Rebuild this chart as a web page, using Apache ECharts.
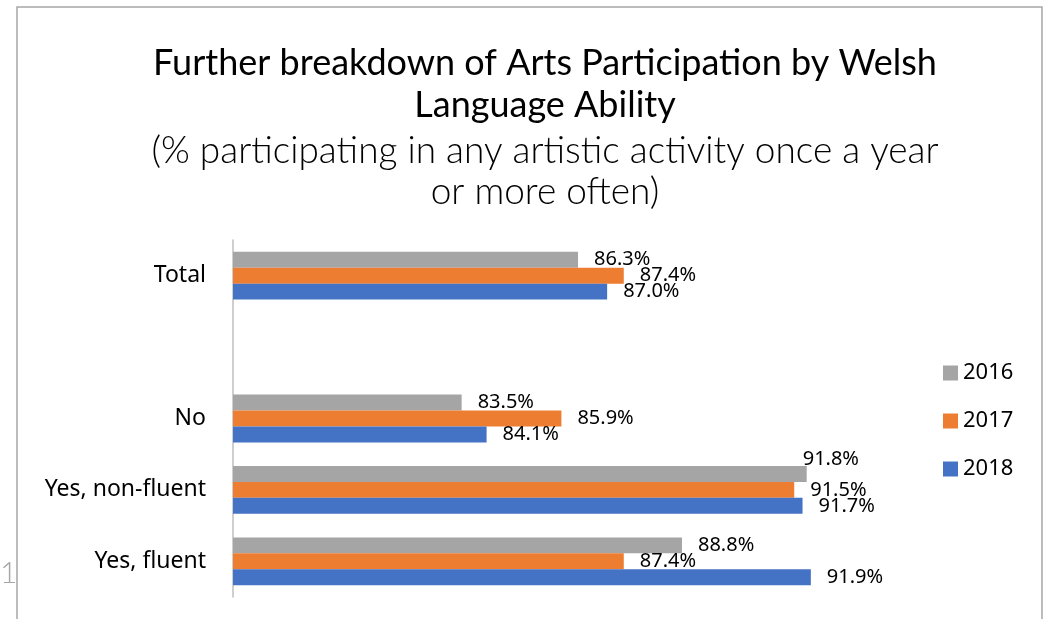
<!DOCTYPE html>
<html>
<head>
<meta charset="utf-8">
<script src="https://cdn.jsdelivr.net/npm/echarts@6/dist/echarts.min.js"></script>
<style>
html,body{margin:0;padding:0;background:#fff;}
#chart{width:1047px;height:619px;}
</style>
</head>
<body>
<div id="chart"></div>
<script>
// Categories, bottom to top as the category axis runs
var categories = ['Yes, fluent', 'Yes, non-fluent', 'No', '', 'Total'];
var seriesNames = ['2016', '2017', '2018'];
var values2016 = [88.8, 91.8, 83.5, null, 86.3];
var values2017 = [87.4, 91.5, 85.9, null, 87.4];
var values2018 = [91.9, 91.7, 84.1, null, 87.0];

var colors = { '2016': '#A5A5A5', '2017': '#ED7D31', '2018': '#4472C4' };
var valuesByName = { '2016': values2016, '2017': values2017, '2018': values2018 };

var chart = echarts.init(document.getElementById('chart'), null, { renderer: 'canvas' });

var labelFont = { fontFamily: 'Noto Sans', fontSize: 20, color: '#000' };

function buildData(name) {
  return valuesByName[name].map(function (v, i) {
    var item = { value: v };
    if (name === '2016' && i === 1) {
      item.label = { offset: [-20, -15] };
    }
    return item;
  });
}

var series = seriesNames.map(function (name) {
  return {
    name: name,
    type: 'bar',
    data: buildData(name),
    itemStyle: { color: colors[name] },
    barGap: '0%',
    barCategoryGap: '33%',
    label: {
      show: true,
      position: 'right',
      distance: 16,
      formatter: function (p) { return p.value == null ? '' : p.value.toFixed(1) + '%'; },
      fontFamily: labelFont.fontFamily,
      fontSize: labelFont.fontSize,
      color: labelFont.color
    }
  };
});

var option = {
  animation: false,
  backgroundColor: '#fff',
  title: [{
    text: 'Further breakdown of Arts Participation by Welsh\nLanguage Ability',
    left: 540,
    top: 37,
    textAlign: 'center',
    textStyle: { fontFamily: 'Lato', fontSize: 36, fontWeight: 'normal', color: '#000', lineHeight: 42 }
  }, {
    text: '(% participating in any artistic activity once a year\nor more often)',
    left: 540,
    top: 126,
    textAlign: 'center',
    textStyle: { fontFamily: 'Lato', fontSize: 37, fontWeight: 300, color: '#000', lineHeight: 41 }
  }],
  legend: {
    data: seriesNames,
    orient: 'vertical',
    left: 938,
    top: 357,
    itemWidth: 15,
    itemHeight: 15,
    itemGap: 26,
    icon: 'rect',
    textStyle: { fontFamily: 'Noto Sans', fontSize: 22, color: '#000', lineHeight: 22 }
  },
  grid: { left: 233, right: 232, top: 240, bottom: 22, containLabel: false },
  xAxis: {
    type: 'value',
    min: 78,
    max: 92,
    show: false
  },
  yAxis: {
    type: 'category',
    data: categories,
    axisLine: { show: true, lineStyle: { color: '#BFBFBF', width: 1.5 } },
    axisTick: { show: false },
    axisLabel: { margin: 27, fontFamily: 'Noto Sans', fontSize: 23, color: '#000' }
  },
  series: series,
  graphic: [{
    type: 'polyline',
    shape: { points: [[17, 619], [17, 7], [1042, 7], [1042, 619]] },
    style: { stroke: '#A6A6A6', lineWidth: 1.5, fill: null },
    silent: true
  }, {
    type: 'text',
    left: 0,
    top: 558,
    style: { text: '1', fontFamily: 'Lato', fontSize: 30, fontWeight: 300, fill: '#A6A6A6' },
    silent: true
  }]
};

chart.setOption(option);
</script>
</body>
</html>
